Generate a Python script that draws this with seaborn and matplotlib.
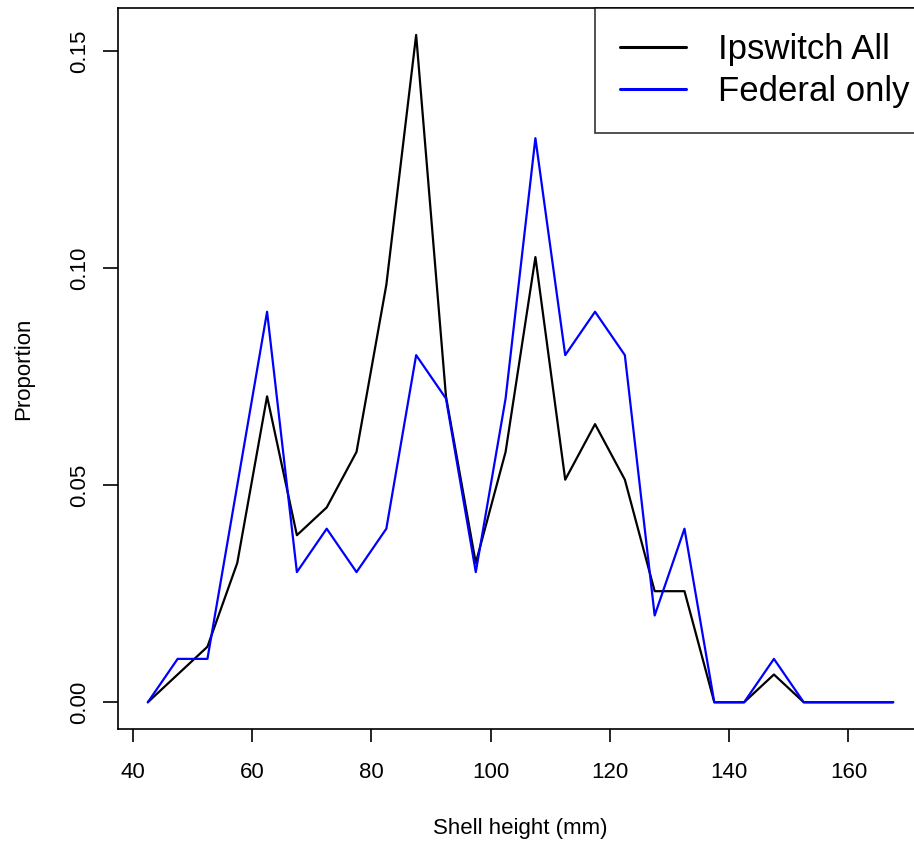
import matplotlib
matplotlib.use("Agg")
import matplotlib.pyplot as plt
import seaborn as sns
import pandas as pd

# ---- data ----
shell_height = [42.5, 47.5, 52.5, 57.5, 62.5, 67.5, 72.5, 77.5, 82.5, 87.5,
                92.5, 97.5, 102.5, 107.5, 112.5, 117.5, 122.5, 127.5, 132.5,
                137.5, 142.5, 147.5, 152.5, 157.5, 162.5, 167.5]
ipswitch_all = [0.0, 0.0064, 0.0128, 0.0321, 0.0705, 0.0385, 0.0449, 0.0577,
                0.0962, 0.1538, 0.0705, 0.0321, 0.0577, 0.1026, 0.0513, 0.0641,
                0.0513, 0.0256, 0.0256, 0.0, 0.0, 0.0064, 0.0, 0.0, 0.0, 0.0]
federal_only = [0.0, 0.01, 0.01, 0.05, 0.09, 0.03, 0.04, 0.03, 0.04, 0.08,
                0.07, 0.03, 0.07, 0.13, 0.08, 0.09, 0.08, 0.02, 0.04, 0.0,
                0.0, 0.01, 0.0, 0.0, 0.0, 0.0]
series_names = ["Ipswitch All", "Federal only"]
series_colors = ["black", "#0000ff"]
x_ticks = [40, 60, 80, 100, 120, 140, 160]
y_ticks = [0.00, 0.05, 0.10, 0.15]

df = pd.DataFrame({
    "Shell height (mm)": shell_height * 2,
    "Proportion": ipswitch_all + federal_only,
    "series": [series_names[0]] * len(shell_height) + [series_names[1]] * len(shell_height),
})

sns.set_style("ticks")
plt.rcParams["font.family"] = ["Liberation Sans", "DejaVu Sans"]
for key in ["text.color", "axes.labelcolor", "xtick.color", "ytick.color",
            "axes.edgecolor"]:
    plt.rcParams[key] = "black"

W, H = 914, 842
fig = plt.figure(figsize=(W / 100, H / 100), dpi=100)
left_px, right_px, top_px, bottom_px = 118, 923, 8, 729
ax = fig.add_axes([left_px / W, 1 - bottom_px / H,
                   (right_px - left_px) / W, (bottom_px - top_px) / H])

sns.lineplot(data=df, x="Shell height (mm)", y="Proportion", hue="series",
             hue_order=series_names, palette=series_colors, linewidth=1.6,
             ax=ax, legend=True)

ax.set_xlim(37.5, 172.5)
ax.set_ylim(-0.00616, 0.16)
ax.set_xticks(x_ticks)
ax.set_xticklabels([str(t) for t in x_ticks])
ax.set_yticks(y_ticks)
ax.set_yticklabels([f"{t:.2f}" for t in y_ticks], rotation=90, va="center")
ax.tick_params(axis="both", direction="out", width=1.2,
               labelsize=16, colors="black")
ax.tick_params(axis="x", length=9.4, pad=14.5)
ax.tick_params(axis="y", length=11, pad=9)
for s in ax.spines.values():
    s.set_visible(True)
    s.set_color("black")
    s.set_linewidth(1.2)

ax.set_xlabel("Shell height (mm)", fontsize=16, labelpad=25, color="black")
ax.set_ylabel("Proportion", fontsize=16, labelpad=25.5, color="black")

handles, labels = ax.get_legend_handles_labels()
axes_w_px = right_px - left_px
leg = ax.legend(handles, labels, loc="upper right",
                bbox_to_anchor=(1 + 11 / axes_w_px, 1.0),
                fontsize=25, frameon=True,
                fancybox=False, edgecolor="black", borderaxespad=0,
                handlelength=1.9, handletextpad=0.9, borderpad=0.72,
                labelspacing=0.27)
leg.get_frame().set_linewidth(1.2)
for t in leg.get_texts():
    t.set_color("black")
for line in leg.get_lines():
    line.set_linewidth(2.2)

fig.savefig("out.png", dpi=100)
